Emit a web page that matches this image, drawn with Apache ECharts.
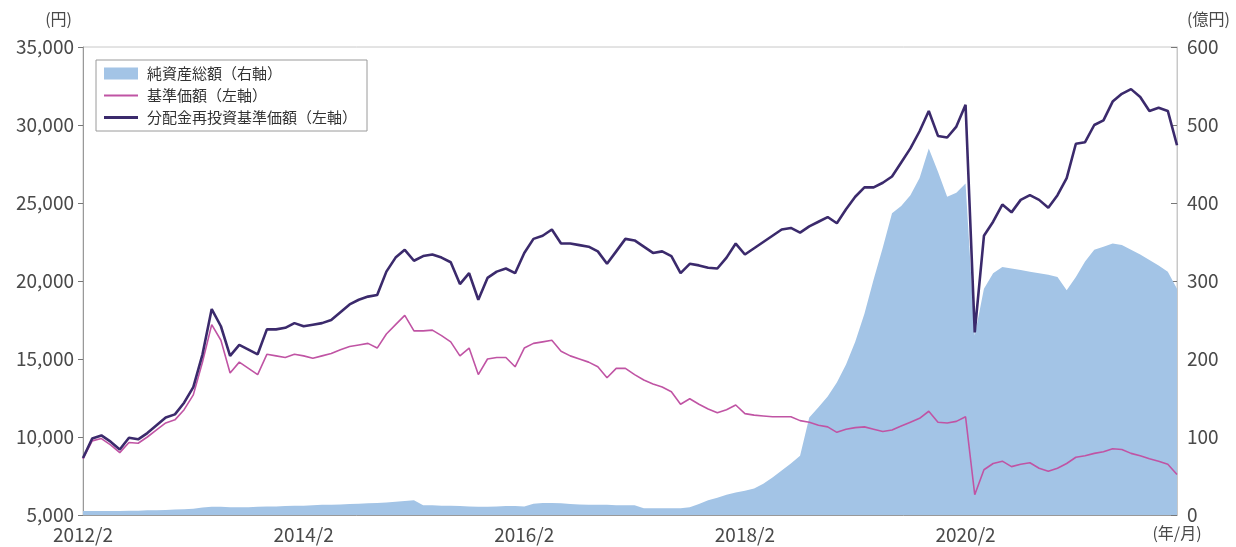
<!DOCTYPE html>
<html>
<head>
<meta charset="utf-8">
<script src="https://cdn.jsdelivr.net/npm/echarts@6/dist/echarts.min.js"></script>
<style>
  html, body { margin: 0; padding: 0; background: #fff; }
  #chart { width: 1236px; height: 547px; }
</style>
</head>
<body>
<div id="chart"></div>
<script>
// monthly points, 2012/2 .. 2022/1
var months = [];
for (var y = 2012, m = 2; months.length < 120; m++) {
  if (m > 12) { m = 1; y++; }
  months.push(y + '/' + m);
}
var xLabels = ['2012/2', '2014/2', '2016/2', '2018/2', '2020/2'];
var xEndLabel = '(年/月)';

// 分配金再投資基準価額 (円)
var navReinvest = [
  8650, 9900, 10100, 9700, 9200, 9950, 9850, 10250, 10750, 11250,
  11450, 12200, 13200, 15300, 18200, 17100, 15200, 15900, 15600, 15300,
  16900, 16900, 17000, 17300, 17100, 17200, 17300, 17500, 18000, 18500,
  18800, 19000, 19100, 20600, 21500, 22000, 21300, 21600, 21700, 21500,
  21200, 19800, 20500, 18800, 20200, 20600, 20800, 20500, 21800, 22700,
  22900, 23300, 22400, 22400, 22300, 22200, 21900, 21100, 21900, 22700,
  22600, 22200, 21800, 21900, 21600, 20500, 21100, 21000, 20850, 20800,
  21500, 22400, 21700, 22100, 22500, 22900, 23300, 23400, 23100, 23500,
  23800, 24100, 23700, 24600, 25400, 26000, 26000, 26300, 26700, 27600,
  28500, 29600, 30900, 29300, 29200, 29900, 31300, 16700, 22900, 23800,
  24900, 24400, 25200, 25500, 25200, 24700, 25500, 26600, 28800, 28900,
  30000, 30300, 31500, 32000, 32300, 31800, 30900, 31100, 30900, 28700
];

// 基準価額 (円)
var nav = [
  8600, 9750, 9900, 9500, 9000, 9650, 9600, 10000, 10450, 10900,
  11100, 11750, 12700, 14800, 17200, 16200, 14100, 14800, 14400, 14000,
  15300, 15200, 15100, 15300, 15200, 15050, 15200, 15350, 15600, 15800,
  15900, 16000, 15700, 16600, 17200, 17800, 16800, 16800, 16850, 16500,
  16100, 15200, 15700, 14000, 15000, 15100, 15100, 14500, 15700, 16000,
  16100, 16200, 15500, 15200, 15000, 14800, 14500, 13800, 14400, 14400,
  14000, 13650, 13400, 13200, 12900, 12100, 12450, 12100, 11800, 11550,
  11750, 12050, 11500, 11400, 11350, 11300, 11300, 11300, 11050, 10950,
  10750, 10650, 10300, 10500, 10600, 10650, 10500, 10350, 10450, 10700,
  10950, 11200, 11650, 10950, 10900, 11000, 11300, 6300, 7900, 8300,
  8450, 8100, 8250, 8350, 8000, 7800, 8000, 8300, 8700, 8800,
  8950, 9050, 9250, 9200, 8950, 8800, 8600, 8450, 8250, 7600
];

// 純資産総額 (億円)
var netAssets = [
  5, 5, 5, 5, 5, 5.5, 5.5, 6, 6, 6.5,
  7, 7.5, 8, 9.5, 10.5, 10.5, 10, 10, 10, 10.5,
  11, 11, 11.5, 12, 12, 12.5, 13, 13, 13.5, 14,
  14.5, 15, 15.5, 16, 17, 18, 19, 12.5, 12.5, 12,
  12, 11.5, 11, 10.5, 10.5, 11, 11.5, 11.5, 11, 14.5,
  15.5, 15.5, 15, 14, 13.5, 13, 13, 13, 12.5, 12.5,
  12.5, 8.5, 8.5, 8.5, 8.5, 8.5, 10, 14, 19, 22,
  26, 29, 31, 34, 40, 48, 57, 66, 76, 125,
  138, 152, 170, 193, 222, 258, 302, 343, 387, 396,
  410, 432, 470, 440, 408, 413, 425, 230, 290, 310,
  318, 316, 314, 312, 310, 308, 305, 288, 305, 325,
  340, 344, 348, 346, 340, 334, 327, 320, 312, 290
];

var FONT = 'Noto Sans CJK JP';
var LABEL = '#4a4a4a';
var chart = echarts.init(document.getElementById('chart'));

chart.setOption({
  animation: false,
  textStyle: { fontFamily: FONT },
  grid: {
    left: 83, right: 59, top: 47, bottom: 32,
    show: true, borderColor: '#c8c8c8', borderWidth: 1
  },
  legend: {
    left: 96, top: 60,
    orient: 'vertical',
    backgroundColor: '#fff',
    borderColor: '#9a9a9a', borderWidth: 1,
    padding: [6, 10, 6, 8],
    itemWidth: 34, itemHeight: 12, itemGap: 7,
    textStyle: { fontSize: 15, color: '#333', fontFamily: FONT, padding: [0, 0, 0, 4] },
    data: [
      { name: '純資産総額（右軸）', icon: 'rect' },
      { name: '基準価額（左軸）', icon: 'path://M0,0H34V2H0Z' },
      { name: '分配金再投資基準価額（左軸）', icon: 'path://M0,0H34V3H0Z' }
    ]
  },
  xAxis: {
    type: 'category',
    data: months,
    boundaryGap: false,
    axisLine: { lineStyle: { color: '#999' } },
    axisTick: {
      inside: true, length: 6,
      lineStyle: { color: '#777' },
      interval: function (i) { return i > 0 && i % 24 === 0; }
    },
    axisLabel: {
      margin: 10, fontSize: 19, color: LABEL,
      interval: function (i) { return i % 24 === 0 || i === months.length - 1; },
      formatter: function (v, i) {
        if (i === months.length - 1) return '{u|' + xEndLabel + '}';
        return xLabels.indexOf(v) >= 0 ? v : '';
      },
      rich: { u: { fontSize: 16, color: LABEL, fontFamily: FONT } }
    },
    splitLine: { show: false }
  },
  yAxis: [
    {
      type: 'value', min: 5000, max: 35000, interval: 5000,
      name: '(円)', nameLocation: 'end', nameGap: 20,
      nameTextStyle: { align: 'right', padding: [0, 11, 0, 0], fontSize: 16, color: LABEL },
      axisLine: { show: true, lineStyle: { color: '#999' } },
      axisTick: { show: true, length: 5, lineStyle: { color: '#777' } },
      axisLabel: {
        margin: 9, fontSize: 19, color: LABEL,
        formatter: function (v) { return v.toLocaleString('en-US'); }
      },
      splitLine: { show: false }
    },
    {
      type: 'value', min: 0, max: 600, interval: 100,
      name: '(億円)', nameLocation: 'end', nameGap: 20,
      nameTextStyle: { align: 'left', padding: [0, 0, 0, 10], fontSize: 16, color: LABEL },
      axisLine: { show: true, lineStyle: { color: '#c8c8c8' } },
      axisTick: { show: true, inside: true, length: 6, lineStyle: { color: '#777' } },
      axisLabel: { margin: 10, fontSize: 19, color: LABEL },
      splitLine: { show: false }
    }
  ],
  series: [
    {
      name: '純資産総額（右軸）',
      type: 'line',
      yAxisIndex: 1,
      data: netAssets,
      symbol: 'none',
      lineStyle: { width: 0 },
      itemStyle: { color: '#a3c4e6' },
      areaStyle: { color: '#a3c4e6', opacity: 1 },
      z: 1
    },
    {
      name: '基準価額（左軸）',
      type: 'line',
      data: nav,
      symbol: 'none',
      itemStyle: { color: '#c054a4' },
      lineStyle: { width: 1.6, color: '#c054a4' },
      z: 2
    },
    {
      name: '分配金再投資基準価額（左軸）',
      type: 'line',
      data: navReinvest,
      symbol: 'none',
      itemStyle: { color: '#3b2a6c' },
      lineStyle: { width: 2.6, color: '#3b2a6c' },
      z: 3
    }
  ]
});
</script>
</body>
</html>
